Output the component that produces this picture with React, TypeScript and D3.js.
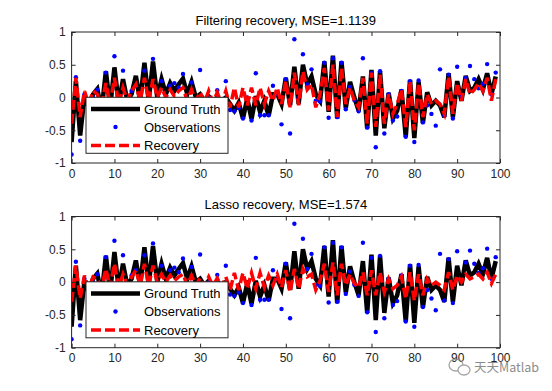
import React, { useRef, useEffect } from 'react';
import * as d3 from 'd3';

// sample index 0..99
const truth = [
  -0.68, 0.25, -0.58, 0.02, -0.15, 0.05, 0.13, -0.2, 0.4, -0.15,
  0.46, -0.1, 0.28, -0.05, 0.05, 0.33, -0.05, 0.53, -0.05, 0.55,
  0.0, 0.28, 0.05, 0.22, 0.1, 0.2, 0.29, 0.05, 0.24, 0.0,
  0.05, -0.05, 0.02, -0.05, 0.0, -0.05, 0.0, -0.1, -0.2, -0.08,
  -0.32, -0.02, -0.33, 0.02, -0.22, -0.05, -0.28, 0.05, 0.05, -0.1,
  0.3, -0.12, 0.47, -0.1, 0.5, 0.2, 0.32, 0.05, -0.05, 0.55,
  -0.22, 0.64, -0.32, 0.55, -0.16, 0.24, 0.0, -0.2, 0.32, -0.47,
  0.42, -0.58, 0.4, -0.47, 0.07, -0.32, -0.2, 0.12, -0.6, 0.27,
  -0.62, 0.24, -0.39, 0.08, -0.12, -0.05, -0.12, -0.3, 0.37, -0.3,
  0.25, -0.05, 0.33, 0.1, 0.15, 0.28, 0.12, 0.37, 0.05, 0.32,
];

const observations = [
  -0.87, 0.31, -0.66, 0.05, -0.3, 0.0, 0.12, -0.3, 0.38, -0.2,
  0.63, -0.2, 0.41, -0.1, 0.1, 0.18, -0.1, 0.41, -0.15, 0.59,
  -0.1, 0.25, -0.05, 0.18, 0.22, 0.15, 0.36, -0.1, 0.23, -0.15,
  0.42, -0.1, 0.0, -0.2, 0.11, -0.15, 0.25, -0.19, -0.21, -0.16,
  -0.32, 0.0, -0.35, 0.37, -0.27, -0.27, -0.27, 0.18, 0.05, -0.41,
  0.28, -0.55, 0.89, 0.0, 0.66, 0.2, 0.43, -0.05, -0.06, 0.53,
  -0.31, 0.6, -0.3, 0.53, -0.18, 0.16, -0.04, -0.21, 0.6, -0.46,
  0.37, -0.76, 0.4, -0.55, 0.05, -0.35, -0.29, 0.1, -0.6, 0.25,
  -0.68, 0.26, -0.38, -0.12, -0.25, -0.43, 0.43, -0.28, 0.35, -0.32,
  0.47, 0.02, 0.3, 0.48, 0.28, 0.14, 0.21, 0.51, 0.05, 0.38,
];

const filterRecovery = [
  -0.4, 0.3, -0.3, 0.1, -0.1, 0.1, 0.05, -0.1, 0.22, -0.1,
  0.3, -0.1, 0.15, -0.05, 0.1, 0.2, -0.05, 0.3, -0.05, 0.28,
  0.0, 0.15, 0.0, 0.12, 0.02, 0.1, 0.15, -0.05, 0.12, -0.05,
  0.08, -0.08, 0.1, -0.08, 0.08, -0.1, 0.1, -0.15, 0.15, -0.15,
  0.15, -0.12, 0.15, -0.12, 0.15, -0.1, 0.1, -0.05, 0.15, -0.1,
  0.25, -0.15, 0.38, -0.12, 0.4, 0.12, 0.2, -0.15, 0.05, 0.45,
  -0.2, 0.5, -0.3, 0.45, -0.1, 0.15, -0.05, -0.15, 0.3, -0.4,
  0.38, -0.45, 0.35, -0.4, 0.05, -0.25, -0.1, 0.12, -0.45, 0.25,
  -0.5, 0.22, -0.3, 0.05, -0.1, -0.05, -0.1, -0.25, 0.32, -0.25,
  0.22, -0.05, 0.28, 0.05, 0.12, 0.22, 0.1, 0.3, -0.05, 0.28,
];

const lassoRecovery = [
  -0.3, 0.25, -0.25, 0.1, -0.1, 0.08, 0.05, -0.08, 0.2, -0.08,
  0.28, -0.08, 0.12, -0.05, 0.08, 0.18, -0.05, 0.28, -0.05, 0.25,
  0.0, 0.12, 0.0, 0.1, 0.02, 0.08, 0.12, -0.05, 0.1, -0.05,
  0.06, -0.06, 0.08, -0.06, 0.06, -0.08, 0.08, -0.12, 0.14, -0.12,
  0.14, -0.1, 0.14, -0.1, 0.14, -0.08, 0.1, -0.05, 0.12, -0.08,
  0.18, -0.15, 0.2, -0.1, 0.2, 0.08, 0.12, -0.12, 0.02, 0.28,
  -0.15, 0.3, -0.2, 0.28, -0.05, 0.12, -0.02, -0.08, 0.15, -0.2,
  0.18, -0.2, 0.15, -0.15, 0.05, -0.1, -0.05, 0.08, -0.25, 0.15,
  -0.28, 0.12, -0.2, 0.05, -0.05, 0.0, -0.05, -0.12, 0.15, -0.12,
  0.1, 0.0, 0.12, 0.05, 0.08, 0.12, 0.05, 0.15, -0.02, 0.12,
];

const xTicks = [0, 10, 20, 30, 40, 50, 60, 70, 80, 90, 100];
const yTicks = [-1, -0.5, 0, 0.5, 1];
const legendLabels = ['Ground Truth', 'Observations', 'Recovery'];

const panels = [
  { title: 'Filtering recovery, MSE=1.1139', recovery: filterRecovery, top: 32, bottom: 163 },
  { title: 'Lasso recovery, MSE=1.574', recovery: lassoRecovery, top: 216.5, bottom: 347.7 },
];

const FONT = 'Liberation Sans, Arial, Helvetica, sans-serif';

const App = () => {
  const svgRef = useRef<SVGSVGElement>(null);

  useEffect(() => {
    const svg = d3.select(svgRef.current);
    svg.selectAll('*').remove();

    const left = 71.6;
    const right = 500;
    const x = d3.scaleLinear().domain([0, 100]).range([left, right]);
    const idx = d3.range(truth.length);

    panels.forEach((p) => {
      const y = d3.scaleLinear().domain([-1, 1]).range([p.bottom, p.top]);
      const g = svg.append('g');

      const clipId = `clip-${p.top}`;
      g.append('clipPath').attr('id', clipId)
        .append('rect')
        .attr('x', left).attr('y', p.top)
        .attr('width', right - left).attr('height', p.bottom - p.top);

      const plot = g.append('g').attr('clip-path', `url(#${clipId})`);

      // ground truth
      plot.append('path')
        .datum(idx)
        .attr('fill', 'none')
        .attr('stroke', '#000')
        .attr('stroke-width', 4.5)
        .attr('d', d3.line<number>().x((i) => x(i)).y((i) => y(truth[i])));

      // observations
      plot.selectAll('circle.obs')
        .data(idx)
        .enter()
        .append('circle')
        .attr('class', 'obs')
        .attr('cx', (i) => x(i))
        .attr('cy', (i) => y(observations[i]))
        .attr('r', 2.2)
        .attr('fill', '#0000ff');

      // recovery
      plot.append('path')
        .datum(idx)
        .attr('fill', 'none')
        .attr('stroke', '#ff0000')
        .attr('stroke-width', 3.5)
        .attr('stroke-dasharray', '10,4')
        .attr('d', d3.line<number>().x((i) => x(i)).y((i) => y(p.recovery[i])));

      // axes
      const axisStyle = (a: d3.Selection<SVGGElement, unknown, null, undefined>) => {
        a.select('.domain').remove();
        a.selectAll('line').attr('stroke', '#262626');
        a.selectAll('text').attr('fill', '#262626').attr('font-size', 12).attr('font-family', FONT);
      };

      g.append('g')
        .attr('transform', `translate(0,${p.bottom})`)
        .call(d3.axisBottom(x).tickValues(xTicks).tickSize(-4).tickPadding(6).tickFormat((d) => String(d)))
        .call(axisStyle);
      g.append('g')
        .attr('transform', `translate(0,${p.top})`)
        .call(d3.axisTop(x).tickValues(xTicks).tickSize(-4).tickFormat(() => ''))
        .call(axisStyle);
      g.append('g')
        .attr('transform', `translate(${left},0)`)
        .call(d3.axisLeft(y).tickValues(yTicks).tickSize(-4).tickPadding(6).tickFormat((d) => String(d)))
        .call(axisStyle);
      g.append('g')
        .attr('transform', `translate(${right},0)`)
        .call(d3.axisRight(y).tickValues(yTicks).tickSize(-4).tickFormat(() => ''))
        .call(axisStyle);

      g.append('rect')
        .attr('x', left).attr('y', p.top)
        .attr('width', right - left).attr('height', p.bottom - p.top)
        .attr('fill', 'none')
        .attr('stroke', '#262626')
        .attr('stroke-width', 1);

      // title
      g.append('text')
        .attr('x', (left + right) / 2)
        .attr('y', p.top - 7.5)
        .attr('text-anchor', 'middle')
        .attr('font-family', FONT)
        .attr('font-size', 13)
        .attr('fill', '#000')
        .text(p.title);

      // legend
      const lx = 86;
      const ly = p.top + 65.3;
      const lg = g.append('g').attr('transform', `translate(${lx},${ly})`);
      lg.append('rect')
        .attr('width', 142).attr('height', 56)
        .attr('fill', '#fff')
        .attr('stroke', '#262626')
        .attr('stroke-width', 1);
      const rows = [11.7, 29.7, 48.2];
      lg.append('line')
        .attr('x1', 5).attr('x2', 54).attr('y1', rows[0]).attr('y2', rows[0])
        .attr('stroke', '#000').attr('stroke-width', 4.5);
      lg.append('circle')
        .attr('cx', 29.5).attr('cy', rows[1]).attr('r', 2.2).attr('fill', '#0000ff');
      lg.append('line')
        .attr('x1', 5).attr('x2', 54).attr('y1', rows[2]).attr('y2', rows[2])
        .attr('stroke', '#ff0000').attr('stroke-width', 3.5).attr('stroke-dasharray', '10,4');
      legendLabels.forEach((t, k) => {
        lg.append('text')
          .attr('x', 58).attr('y', rows[k])
          .attr('dy', '0.36em')
          .attr('font-family', FONT)
          .attr('font-size', 13)
          .attr('fill', '#000')
          .text(t);
      });
    });

    // watermark (sits over the last tick labels, as in the source image)
    const wm = svg.append('g').attr('opacity', 0.75);
    wm.append('ellipse').attr('cx', 456).attr('cy', 365).attr('rx', 7).attr('ry', 6)
      .attr('fill', 'none').attr('stroke', '#888').attr('stroke-width', 1.3);
    wm.append('ellipse').attr('cx', 464).attr('cy', 370).attr('rx', 6).attr('ry', 5)
      .attr('fill', '#fff').attr('stroke', '#888').attr('stroke-width', 1.3);
    wm.append('text')
      .attr('x', 474).attr('y', 372)
      .attr('font-family', 'Noto Sans CJK SC, sans-serif')
      .attr('font-size', 12.5)
      .attr('fill', '#666')
      .text('天天Matlab');
  }, []);

  return (
    <svg
      ref={svgRef}
      width={552}
      height={391}
      style={{ position: 'absolute', left: 0, top: 0, background: '#fff' }}
    />
  );
};

export default App;
